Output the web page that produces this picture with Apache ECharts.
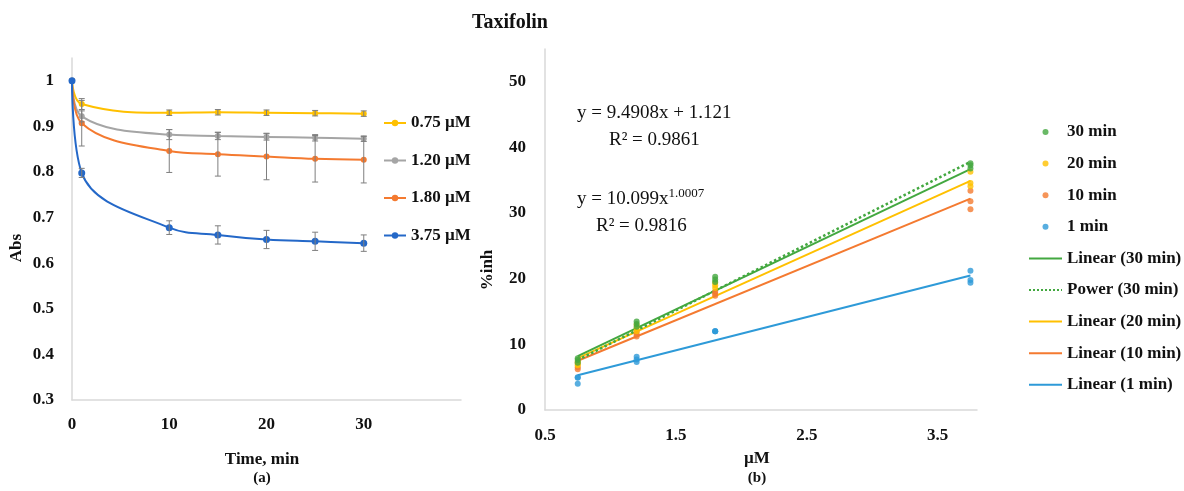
<!DOCTYPE html>
<html><head><meta charset="utf-8">
<script src="https://cdn.jsdelivr.net/npm/echarts@6/dist/echarts.min.js"></script>
<style>html,body{margin:0;padding:0;background:#fff}#c{width:1184px;height:491px}</style>
</head><body><div id="c"></div>
<script>
// ---------- Panel (a) data ----------
const timeMin = [0, 1, 10, 15, 20, 25, 30];
const concNames = ['0.75 µM', '1.20 µM', '1.80 µM', '3.75 µM'];
const abs075 = [1, 0.949, 0.930, 0.931, 0.930, 0.929, 0.928];
const err075 = [0, 0.012, 0.006, 0.006, 0.006, 0.006, 0.006];
const abs120 = [1, 0.922, 0.882, 0.879, 0.877, 0.875, 0.873];
const err120 = [0, 0.012, 0.011, 0.008, 0.007, 0.007, 0.006];
const abs180 = [1, 0.907, 0.846, 0.839, 0.834, 0.829, 0.827];
const err180 = [0, 0.050, 0.047, 0.048, 0.051, 0.051, 0.051];
const abs375 = [1, 0.798, 0.678, 0.662, 0.652, 0.648, 0.644];
const err375 = [0, 0.010, 0.015, 0.020, 0.020, 0.020, 0.018];

// ---------- Panel (b) data ----------
const inh30 = [[0.75,7.9],[0.75,7.6],[0.75,7.2],[1.2,13.5],[1.2,13.1],[1.2,12.7],[1.8,20.3],[1.8,19.9],[1.8,19.5],[3.75,37.6],[3.75,37.3],[3.75,36.8]];
const inh20 = [[0.75,7.4],[0.75,7.0],[0.75,6.8],[1.2,13.0],[1.2,12.5],[1.2,12.0],[1.8,19.4],[1.8,19.0],[1.8,18.6],[3.75,36.3],[3.75,34.6],[3.75,34.1]];
const inh10 = [[0.75,7.2],[0.75,6.5],[0.75,6.2],[1.2,11.9],[1.2,11.5],[1.2,11.2],[1.8,18.0],[1.8,17.7],[1.8,17.4],[3.75,33.4],[3.75,31.8],[3.75,30.6]];
const inh1  = [[0.75,5.0],[0.75,4.9],[0.75,4.0],[1.2,8.1],[1.2,7.7],[1.2,7.3],[1.8,12.0],[1.8,12.0],[1.8,12.0],[3.75,21.2],[3.75,19.8],[3.75,19.4]];
const lin30 = [[0.75, 8.2], [3.75, 36.7]];
const pow30 = [[0.75, 7.6], [1.8, 18.2], [3.75, 37.8]];
const lin20 = [[0.75, 7.9], [3.75, 34.9]];
const lin10 = [[0.75, 7.5], [3.75, 32.2]];
const lin1  = [[0.75, 5.3], [3.75, 20.5]];
const scatterNames = ['30 min', '20 min', '10 min', '1 min'];
const trendNames = ['Linear (30 min)', 'Power (30 min)', 'Linear (20 min)', 'Linear (10 min)', 'Linear (1 min)'];
const eqLinear = 'y = 9.4908x + 1.121';
const r2Linear = 'R² = 0.9861';
const eqPowerBase = 'y = 10.099x';
const eqPowerExp = '1.0007';
const r2Power = 'R² = 0.9816';

const FF = '"Liberation Serif", "DejaVu Serif", serif';
const cYellow = '#FFC000', cGray = '#A5A5A5', cOrange = '#F47A30', cBlueA = '#2468C8';
const cGreen = '#43A840', cBlueB = '#2E9AD8';

const chart = echarts.init(document.getElementById('c'));

function lineA(name, vals, color, size) {
  return { type: 'line', name, xAxisIndex: 0, yAxisIndex: 0, data: timeMin.map((t, i) => [t, vals[i]]),
    smooth: 0.4, symbol: 'circle', symbolSize: size, z: 3,
    lineStyle: { color, width: 2 }, itemStyle: { color } };
}
function errA(vals, errs) {
  return { type: 'custom', xAxisIndex: 0, yAxisIndex: 0, silent: true, z: 4,
    data: timeMin.map((t, i) => [t, vals[i], errs[i]]),
    encode: { x: 0, y: 1 },
    renderItem: (params, api) => {
      const x = api.value(0), y = api.value(1), e = api.value(2);
      if (!e) return { type: 'group', children: [] };
      const top = api.coord([x, y + e]), bot = api.coord([x, y - e]);
      const w = 3, st = { stroke: '#7F7F7F', lineWidth: 1 };
      return { type: 'group', children: [
        { type: 'line', shape: { x1: top[0], y1: top[1], x2: bot[0], y2: bot[1] }, style: st },
        { type: 'line', shape: { x1: top[0] - w, y1: top[1], x2: top[0] + w, y2: top[1] }, style: st },
        { type: 'line', shape: { x1: bot[0] - w, y1: bot[1], x2: bot[0] + w, y2: bot[1] }, style: st }
      ]};
    } };
}
function scat(name, data, color) {
  return { type: 'scatter', name, xAxisIndex: 1, yAxisIndex: 1, data, symbol: 'circle', symbolSize: 6,
    itemStyle: { color }, z: 3 };
}
function trend(name, data, color, type, width) {
  return { type: 'line', name, xAxisIndex: 1, yAxisIndex: 1, data, symbol: 'none', smooth: false,
    lineStyle: { color, width, type }, itemStyle: { color }, z: 2 };
}

const axisLineStyle = { show: true, lineStyle: { color: '#D9D9D9', width: 1.5 } };
const labelStyle = { fontFamily: FF, fontWeight: 'bold', fontSize: 17, color: '#111' };

const option = {
  backgroundColor: '#fff',
  animation: false,
  grid: [
    { left: 72, right: 723, top: 58, bottom: 91 },
    { left: 545, right: 207, top: 49, bottom: 81 }
  ],
  xAxis: [
    { type: 'value', gridIndex: 0, min: 0, max: 40, interval: 10,
      axisLine: axisLineStyle, axisTick: { show: false }, splitLine: { show: false },
      axisLabel: Object.assign({ margin: 16, formatter: v => (v === 40 ? '' : String(v)) }, labelStyle) },
    { type: 'value', gridIndex: 1, min: 0.5, max: 3.8, interval: 1,
      axisLine: axisLineStyle, axisTick: { show: false }, splitLine: { show: false },
      axisLabel: Object.assign({ margin: 17, formatter: v => {
        const r = Math.round((v - 0.5)) + 0.5; return Math.abs(v - r) < 1e-6 ? r.toFixed(1) : ''; } }, labelStyle) }
  ],
  yAxis: [
    { type: 'value', gridIndex: 0, min: 0.3, max: 1.05, interval: 0.1,
      axisLine: axisLineStyle, axisTick: { show: false }, splitLine: { show: false },
      axisLabel: Object.assign({ margin: 18, formatter: v => {
        const r = Math.round(v * 10) / 10; return Math.abs(v - r) < 1e-6 ? String(r) : ''; } }, labelStyle) },
    { type: 'value', gridIndex: 1, min: 0, max: 55, interval: 10,
      axisLine: axisLineStyle, axisTick: { show: false }, splitLine: { show: false },
      axisLabel: Object.assign({ margin: 19, formatter: v => (v % 10 === 0 ? String(v) : '') }, labelStyle) }
  ],
  legend: [
    { orient: 'vertical', left: 378, top: 109, itemWidth: 22, itemHeight: 8, itemGap: 19.5,
      textStyle: Object.assign({ lineHeight: 18 }, labelStyle), data: concNames, selectedMode: false },
    { orient: 'vertical', left: 1023, top: 118, itemWidth: 33, itemHeight: 6, itemGap: 13.6,
      textStyle: Object.assign({ lineHeight: 18 }, labelStyle), selectedMode: false,
      data: scatterNames.map(n => ({ name: n })).concat(
        trendNames.map(n => ({ name: n, itemStyle: { color: 'rgba(0,0,0,0)', borderWidth: 0, opacity: 0 } }))) }
  ],
  series: [
    lineA(concNames[0], abs075, cYellow, 6),
    lineA(concNames[1], abs120, cGray, 6),
    lineA(concNames[2], abs180, cOrange, 6),
    lineA(concNames[3], abs375, cBlueA, 7),
    errA(abs075, err075), errA(abs120, err120), errA(abs180, err180), errA(abs375, err375),
    trend(trendNames[4], lin1, cBlueB, 'solid', 2),
    trend(trendNames[3], lin10, cOrange, 'solid', 2),
    trend(trendNames[2], lin20, cYellow, 'solid', 2),
    trend(trendNames[0], lin30, cGreen, 'solid', 2),
    trend(trendNames[1], pow30, cGreen, 'dotted', 2.5),
    scat(scatterNames[3], inh1, cBlueB),
    scat(scatterNames[2], inh10, cOrange),
    scat(scatterNames[1], inh20, cYellow),
    scat(scatterNames[0], inh30, cGreen)
  ],
  graphic: [
    { type: 'text', x: 510, y: 23, style: { text: 'Taxifolin', fontFamily: FF, fontWeight: 'bold', fontSize: 20, fill: '#111', align: 'center', verticalAlign: 'middle' } },
    { type: 'text', x: 577, y: 113, style: { text: eqLinear, fontFamily: FF, fontSize: 19, fill: '#111', align: 'left', verticalAlign: 'middle' } },
    { type: 'text', x: 609, y: 140, style: { text: r2Linear, fontFamily: FF, fontSize: 19, fill: '#111', align: 'left', verticalAlign: 'middle' } },
    { type: 'text', x: 577, y: 199, style: { text: '{b|' + eqPowerBase + '}{s|' + eqPowerExp + '}', fill: '#111', align: 'left', verticalAlign: 'middle',
        rich: { b: { fontFamily: FF, fontSize: 19, lineHeight: 24, fill: '#111' }, s: { fontFamily: FF, fontSize: 13, verticalAlign: 'top', fill: '#111' } } } },
    { type: 'text', x: 596, y: 226, style: { text: r2Power, fontFamily: FF, fontSize: 19, fill: '#111', align: 'left', verticalAlign: 'middle' } },
    { type: 'text', x: 17, y: 248, rotation: Math.PI / 2, style: { text: 'Abs', fontFamily: FF, fontWeight: 'bold', fontSize: 17, fill: '#111', align: 'center', verticalAlign: 'middle' } },
    { type: 'text', x: 488, y: 270, rotation: Math.PI / 2, style: { text: '%inh', fontFamily: FF, fontWeight: 'bold', fontSize: 17, fill: '#111', align: 'center', verticalAlign: 'middle' } },
    { type: 'text', x: 262, y: 460, style: { text: 'Time, min', fontFamily: FF, fontWeight: 'bold', fontSize: 17, fill: '#111', align: 'center', verticalAlign: 'middle' } },
    { type: 'text', x: 262, y: 478, style: { text: '(a)', fontFamily: FF, fontWeight: 'bold', fontSize: 15, fill: '#111', align: 'center', verticalAlign: 'middle' } },
    { type: 'text', x: 757, y: 459, style: { text: 'µM', fontFamily: FF, fontWeight: 'bold', fontSize: 17, fill: '#111', align: 'center', verticalAlign: 'middle' } },
    { type: 'text', x: 757, y: 478, style: { text: '(b)', fontFamily: FF, fontWeight: 'bold', fontSize: 15, fill: '#111', align: 'center', verticalAlign: 'middle' } }
  ]
};
chart.setOption(option);
</script></body></html>
